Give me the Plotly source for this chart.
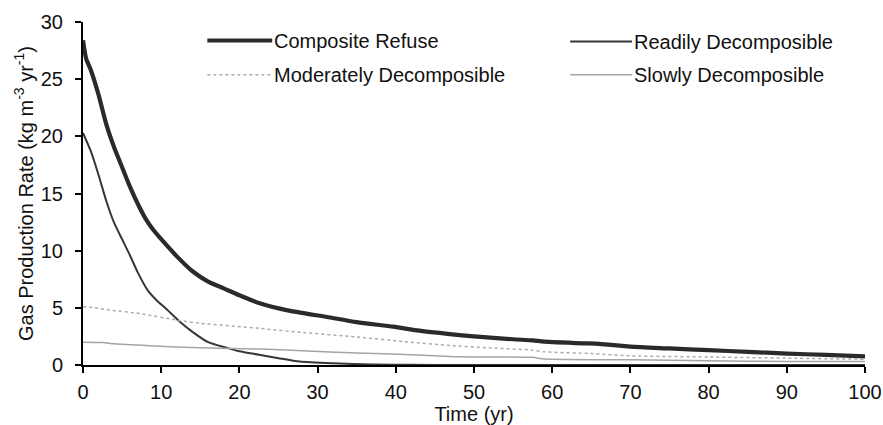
import plotly.graph_objects as go

# Gas production rate over time for each refuse component (kg m^-3 yr^-1)
composite_t = [0, 0.4, 1, 2, 3, 4, 5, 6, 7, 8, 9, 10, 12, 14, 16, 18, 20,
               22.6, 26.0, 31.2, 35.0, 39.7, 43.0, 46.9, 50.0, 55.0, 57.5, 59.0, 64.0, 66.0, 70.0,
               75.0, 80.0, 85.0, 90.0, 95.0, 100.0]
composite_v = [28.4, 26.8, 25.8, 23.6, 21.0, 19.0, 17.3, 15.6, 14.1, 12.8, 11.8, 11.0, 9.5, 8.2,
               7.3, 6.7, 6.1, 5.4, 4.8, 4.2, 3.75, 3.35, 3.0, 2.7, 2.5, 2.25, 2.15, 2.05, 1.9, 1.85,
               1.6, 1.45, 1.3, 1.15, 1.0, 0.88, 0.75]

readily_t = [0, 1, 2, 3, 4, 5, 6, 7, 8.3, 9.5, 10.5, 12.2, 14.0, 16.0, 18.4, 20.0, 22.5,
             25.0, 27.7, 32.0, 37.0, 42.0, 47.0, 100.0]
readily_v = [20.3, 18.7, 16.6, 14.3, 12.4, 11.0, 9.6, 8.1, 6.5, 5.6, 5.0, 3.9, 2.9, 2.0, 1.5, 1.2,
             0.9, 0.6, 0.3, 0.15, 0.05, 0.02, 0.0, 0.0]

moderate_t = [0, 1.5, 3.5, 7.3, 12.2, 15.0, 22.6, 28.0, 35.0, 41.0, 47.0, 52.0, 57.5, 59.0, 65.0,
              70.0, 80.0, 90.0, 100.0]
moderate_v = [5.1, 5.0, 4.8, 4.5, 3.9, 3.65, 3.2, 2.85, 2.45, 2.05, 1.7, 1.5, 1.3, 1.15, 1.0,
              0.8, 0.7, 0.6, 0.5]

slowly_t = [0, 2.5, 4.0, 8.5, 15.0, 22.6, 28.0, 35.0, 42.0, 48.0, 57.5, 59.0, 70.0, 80.0, 90.0, 100.0]
slowly_v = [2.0, 1.97, 1.85, 1.68, 1.5, 1.4, 1.25, 1.05, 0.9, 0.72, 0.67, 0.52, 0.45, 0.38, 0.3, 0.3]

series_names = ["Composite Refuse", "Readily Decomposible",
                "Moderately Decomposible", "Slowly Decomposible"]

x_ticks = [0, 10, 20, 30, 40, 50, 60, 70, 80, 90, 100]
y_ticks = [0, 5, 10, 15, 20, 25, 30]

FONT = "Liberation Sans, Arial, sans-serif"
INK = "#111111"

styles = [
    dict(color="#2a2a2a", width=4.2, dash="solid"),
    dict(color="#363636", width=2.0, dash="solid"),
    dict(color="#ababab", width=1.5, dash="dot"),
    dict(color="#a4a4a4", width=1.5, dash="solid"),
]
data = [(composite_t, composite_v), (readily_t, readily_v),
        (moderate_t, moderate_v), (slowly_t, slowly_v)]

fig = go.Figure()
for (t, v), name, st in zip(data, series_names, styles):
    fig.add_trace(go.Scatter(x=t, y=v, mode="lines", name=name,
                             line=dict(color=st["color"], width=st["width"],
                                       dash=st["dash"], shape="spline", smoothing=0.6),
                             showlegend=False))

# Two-column key drawn in paper coordinates above the curves
key_pos = [(0.159, 0.946), (0.623, 0.943), (0.159, 0.846), (0.623, 0.846)]
key_len = [0.083, 0.079, 0.083, 0.079]
for (kx, ky), ln, name, st in zip(key_pos, key_len, series_names, styles):
    fig.add_shape(type="line", xref="paper", yref="paper",
                  x0=kx, x1=kx + ln, y0=ky, y1=ky,
                  line=dict(color=st["color"], width=st["width"], dash=st["dash"]))
    fig.add_annotation(xref="paper", yref="paper", x=kx + ln, y=ky,
                       text=name, showarrow=False, xanchor="left", yanchor="middle",
                       font=dict(family=FONT, size=20, color=INK))

axis_common = dict(showline=True, linecolor="#000000", linewidth=2,
                   ticks="outside", ticklen=6, tickwidth=2, tickcolor="#000000",
                   showgrid=False, zeroline=False, automargin=False,
                   tickfont=dict(family=FONT, size=20, color=INK))

fig.update_xaxes(range=[0, 100], tickvals=x_ticks, ticklabelstandoff=2,
                 title=dict(text="Time (yr)", font=dict(family=FONT, size=20, color=INK),
                            standoff=3),
                 **axis_common)
fig.update_yaxes(range=[0, 30], tickvals=y_ticks, ticklabelstandoff=8,
                 title=dict(text="Gas Production Rate (kg m<sup>-3</sup> yr<sup>-1</sup>)",
                            font=dict(family=FONT, size=20, color=INK), standoff=2),
                 **axis_common)

fig.update_layout(width=883, height=425,
                  margin=dict(l=83, r=18, t=22, b=60),
                  paper_bgcolor="white", plot_bgcolor="white",
                  font=dict(family=FONT))

fig.write_html("out.html")
